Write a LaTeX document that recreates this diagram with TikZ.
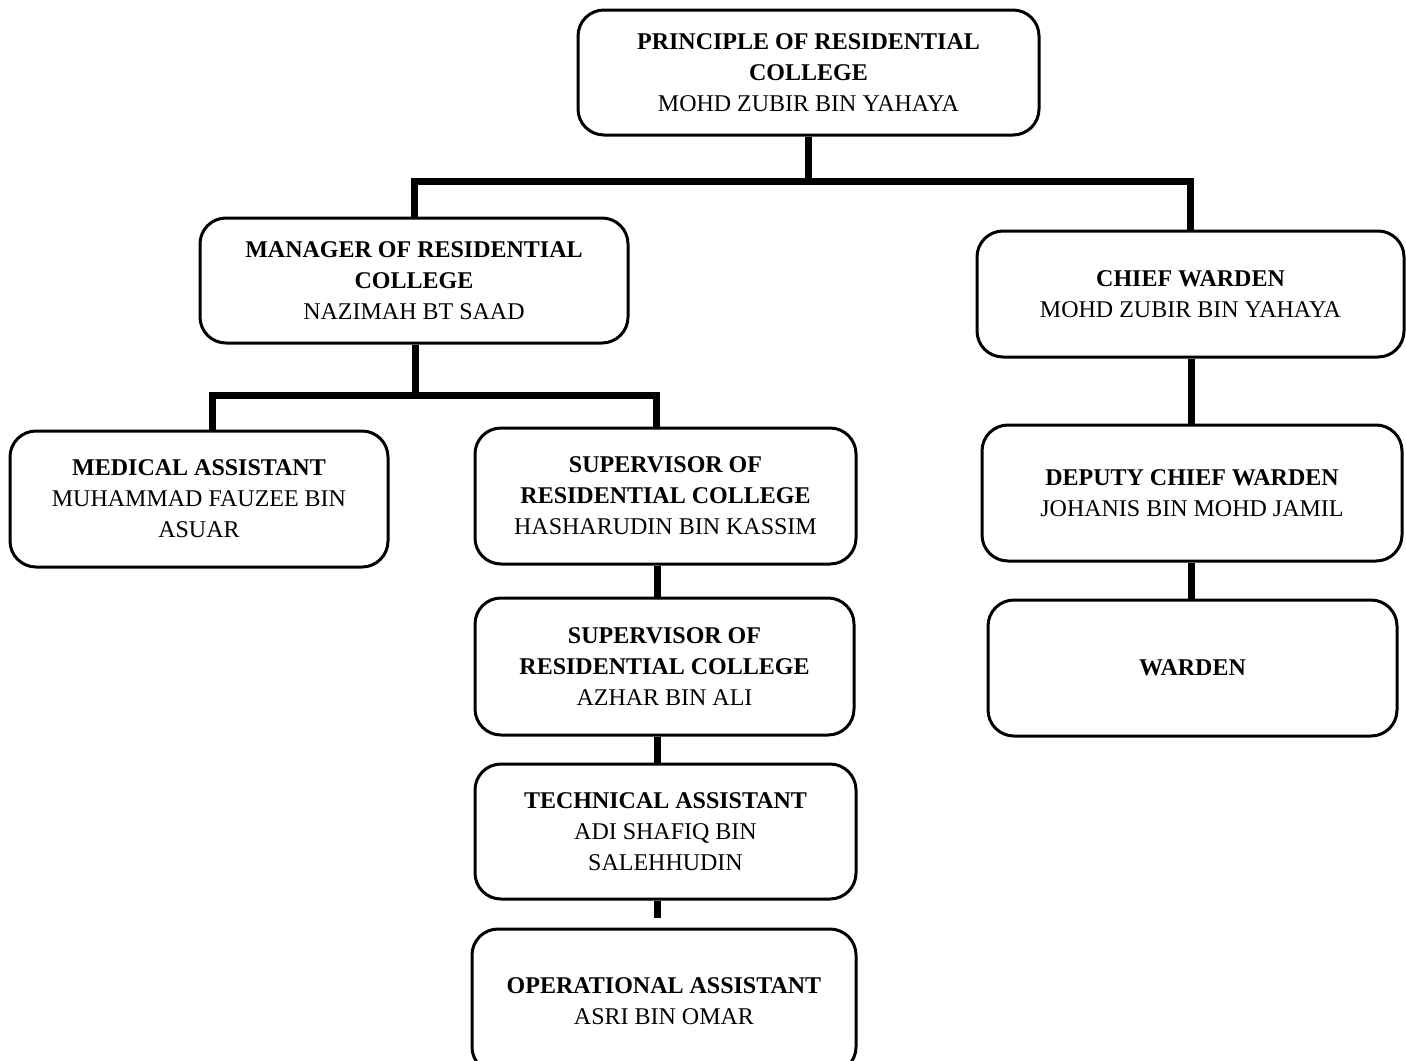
\documentclass[tikz,border=0pt]{standalone}
\usepackage{fontspec}
\setmainfont{Liberation Serif}
\usetikzlibrary{calc}
\tikzset{
  post/.style={draw, line width=1.5pt, rounded corners=13pt, align=center, inner sep=0pt,
    font=\fontsize{12}{15.5}\selectfont},
  link/.style={line width=3.5pt, line join=miter}
}

\begin{document}
\begin{tikzpicture}[x=0.5pt, y=-0.5pt]
		%%%%% START %%%%%
		\useasboundingbox (0, 0) rectangle (1406, 1060);
		
		\node[post, minimum width=230.5pt, minimum height=62.5pt] (princ) at (808.5, 72.5)
			{\textbf{PRINCIPLE OF RESIDENTIAL}\\\textbf{COLLEGE}\\MOHD ZUBIR BIN YAHAYA};
		
		\node[post, minimum width=214pt, minimum height=62.5pt] (manager) at (414, 280.5)
			{\textbf{MANAGER OF RESIDENTIAL}\\\textbf{COLLEGE}\\NAZIMAH BT SAAD};
		\node[post, minimum width=213.5pt, minimum height=63pt] (chief) at (1190.5, 294)
			{\textbf{CHIEF WARDEN}\\MOHD ZUBIR BIN YAHAYA};
		
		\node[post, minimum width=189pt, minimum height=68pt] (medical) at (199, 499)
			{\textbf{MEDICAL ASSISTANT}\\MUHAMMAD FAUZEE BIN\\ASUAR};
		\node[post, minimum width=190.5pt, minimum height=68pt] (supA) at (665.5, 496)
			{\textbf{SUPERVISOR OF}\\\textbf{RESIDENTIAL COLLEGE}\\HASHARUDIN BIN KASSIM};
		\node[post, minimum width=189.5pt, minimum height=68.5pt] (supB) at (664.5, 666.5)
			{\textbf{SUPERVISOR OF}\\\textbf{RESIDENTIAL COLLEGE}\\AZHAR BIN ALI};
		\node[post, minimum width=190.5pt, minimum height=67.5pt] (tech) at (665.5, 831.5)
			{\textbf{TECHNICAL ASSISTANT}\\ADI SHAFIQ BIN\\SALEHHUDIN};
		\node[post, minimum width=192pt, minimum height=72pt] (oper) at (664, 1001)
			{\textbf{OPERATIONAL ASSISTANT}\\ASRI BIN OMAR};
		
		\node[post, minimum width=210pt, minimum height=68pt] (deputy) at (1192, 493)
			{\textbf{DEPUTY CHIEF WARDEN}\\JOHANIS BIN MOHD JAMIL};
		\node[post, minimum width=204.5pt, minimum height=68pt] (warden) at (1192.5, 668)
			{\textbf{WARDEN}};
		
		% top level
		\coordinate (busA) at (808.5, 181);
		\draw[link] (princ.south) -- (busA);
		\draw[link] (manager.north) |- (busA) -| (chief.north);
		
		% manager level
		\coordinate (busB) at (415, 395);
		\coordinate (dropL) at (212, 395);
		\coordinate (dropR) at (656.5, 395);
		\draw[link] (manager.south -| busB) -- (busB);
		\draw[link] (dropL |- medical.north) -- (dropL) -- (dropR) -- (dropR |- supA.north);
		
		% supervisor column
		\coordinate (spine) at (657.5, 918);
		\draw[link] (supA.south -| spine) -- (supB.north -| spine);
		\draw[link] (supB.south -| spine) -- (tech.north -| spine);
		\draw[link] (tech.south -| spine) -- (spine);
		
		% warden column
		\coordinate (wspine) at (1191.5, 0);
		\draw[link] (chief.south -| wspine) -- (deputy.north -| wspine);
		\draw[link] (deputy.south -| wspine) -- (warden.north -| wspine);
		
		%%%%% END %%%%%
\end{tikzpicture}
\end{document}
